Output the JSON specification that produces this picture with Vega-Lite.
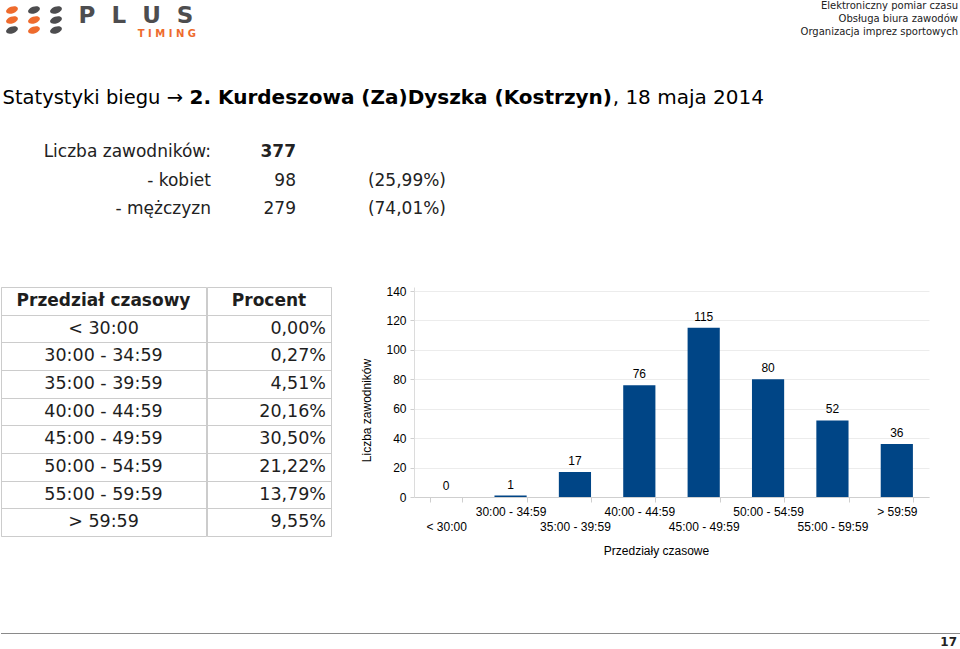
{
  "$schema": "https://vega.github.io/schema/vega-lite/v6.json",
  "padding": 0,
  "background": "#ffffff",
  "spacing": 0,
  "config": {
    "view": {"stroke": null},
    "concat": {"spacing": 0},
    "font": "DejaVu Sans",
    "text": {"font": "DejaVu Sans", "color": "#1e1e1e"}
  },
  "datasets": {
    "przedzialy": [
      {"przedzial": "< 30:00", "liczba": 0, "procent": "0,00%"},
      {"przedzial": "30:00 - 34:59", "liczba": 1, "procent": "0,27%"},
      {"przedzial": "35:00 - 39:59", "liczba": 17, "procent": "4,51%"},
      {"przedzial": "40:00 - 44:59", "liczba": 76, "procent": "20,16%"},
      {"przedzial": "45:00 - 49:59", "liczba": 115, "procent": "30,50%"},
      {"przedzial": "50:00 - 54:59", "liczba": 80, "procent": "21,22%"},
      {"przedzial": "55:00 - 59:59", "liczba": 52, "procent": "13,79%"},
      {"przedzial": "> 59:59", "liczba": 36, "procent": "9,55%"}
    ],
    "zawodnicy": [
      {"kategoria": "Liczba zawodników:", "liczba": 377, "udzial": ""},
      {"kategoria": "- kobiet", "liczba": 98, "udzial": "(25,99%)"},
      {"kategoria": "- mężczyzn", "liczba": 279, "udzial": "(74,01%)"}
    ],
    "naglowek": [
      {"wiersz": 1, "tekst": "Elektroniczny pomiar czasu"},
      {"wiersz": 2, "tekst": "Obsługa biura zawodów"},
      {"wiersz": 3, "tekst": "Organizacja imprez sportowych"}
    ],
    "logo": [
      {"kol": 0, "rz": 0, "barwa": "pomarańczowy"},
      {"kol": 1, "rz": 0, "barwa": "szary"},
      {"kol": 2, "rz": 0, "barwa": "szary"},
      {"kol": 0, "rz": 1, "barwa": "pomarańczowy"},
      {"kol": 1, "rz": 1, "barwa": "pomarańczowy"},
      {"kol": 2, "rz": 1, "barwa": "szary"},
      {"kol": 0, "rz": 2, "barwa": "szary"},
      {"kol": 1, "rz": 2, "barwa": "pomarańczowy"},
      {"kol": 2, "rz": 2, "barwa": "szary"}
    ]
  },
  "vconcat": [
    {
      "hconcat": [
        {
          "width": 66, "height": 40,
          "data": {"name": "logo"},
          "mark": {"type": "point", "filled": true, "opacity": 1, "size": 150, "angle": -20, "shape": "M-1,0A1,0.55,0,1,1,1,0A1,0.55,0,1,1,-1,0"},
          "encoding": {
            "x": {"field": "kol", "type": "ordinal", "axis": null, "scale": {"type": "point", "padding": 0.5}},
            "y": {"field": "rz", "type": "ordinal", "axis": null, "scale": {"type": "point", "padding": 1}},
            "color": {"field": "barwa", "type": "nominal", "legend": null, "scale": {"domain": ["szary", "pomarańczowy"], "range": ["#4d4d4f", "#ee6b2d"]}}
          }
        },
        {
          "width": 138, "height": 40,
          "layer": [
            {
              "data": {"values": [{"napis": "P\u00a0\u00a0L\u00a0\u00a0U\u00a0\u00a0S"}]},
              "mark": {"type": "text", "fontSize": 23, "fontWeight": "bold", "color": "#4d4d4f", "dy": -4},
              "encoding": {"text": {"field": "napis"}}
            },
            {
              "data": {"values": [{"napis": "T I M I N G"}]},
              "mark": {"type": "text", "fontSize": 10, "fontWeight": "bold", "color": "#ee6b2d", "align": "right", "baseline": "bottom", "dx": -9, "dy": -1},
              "encoding": {"text": {"field": "napis"}, "x": {"value": "width"}, "y": {"value": "height"}}
            }
          ]
        },
        {
          "width": 756, "height": 38,
          "data": {"name": "naglowek"},
          "mark": {"type": "text", "align": "right", "fontSize": 10, "dx": -3, "color": "#222222"},
          "encoding": {
            "x": {"value": "width"},
            "y": {"field": "wiersz", "type": "ordinal", "axis": null},
            "text": {"field": "tekst"}
          }
        }
      ]
    },
    {
      "hconcat": [
        {
          "width": 182, "height": 64,
          "data": {"values": [{"tekst": "Statystyki biegu →"}]},
          "mark": {"type": "text", "align": "right", "baseline": "alphabetic", "fontSize": 19.5, "color": "#000000"},
          "encoding": {"x": {"value": "width"}, "y": {"value": "height"}, "text": {"field": "tekst"}}
        },
        {
          "width": 429, "height": 64,
          "data": {"values": [{"tekst": "2. Kurdeszowa (Za)Dyszka (Kostrzyn)"}]},
          "mark": {"type": "text", "align": "right", "baseline": "alphabetic", "fontSize": 20, "fontWeight": "bold", "color": "#000000"},
          "encoding": {"x": {"value": "width"}, "y": {"value": "height"}, "text": {"field": "tekst"}}
        },
        {
          "width": 149, "height": 64,
          "data": {"values": [{"tekst": ", 18 maja 2014"}]},
          "mark": {"type": "text", "align": "right", "baseline": "alphabetic", "fontSize": 20, "color": "#000000"},
          "encoding": {"x": {"value": "width"}, "y": {"value": "height"}, "text": {"field": "tekst"}}
        }
      ]
    },
    {
      "width": 1, "height": 16,
      "data": {"values": []},
      "mark": "text",
      "encoding": {}
    },
    {
      "hconcat": [
        {
          "width": 210, "height": 113,
          "data": {"name": "zawodnicy"},
          "mark": {"type": "text", "align": "right", "fontSize": 17, "color": "#222222"},
          "encoding": {
            "x": {"value": "width"},
            "y": {"field": "kategoria", "type": "nominal", "sort": null, "axis": null, "scale": {"type": "point", "padding": 1, "domain": ["Liczba zawodników:", "- kobiet", "- mężczyzn"]}},
            "text": {"field": "kategoria"}
          }
        },
        {
          "width": 85, "height": 113,
          "data": {"name": "zawodnicy"},
          "encoding": {
            "x": {"value": "width"},
            "y": {"field": "kategoria", "type": "nominal", "sort": null, "axis": null, "scale": {"type": "point", "padding": 1, "domain": ["Liczba zawodników:", "- kobiet", "- mężczyzn"]}},
            "text": {"field": "liczba", "type": "quantitative"}
          },
          "layer": [
            {
              "transform": [{"filter": "datum.kategoria === 'Liczba zawodników:'"}],
              "mark": {"type": "text", "align": "right", "fontSize": 17, "fontWeight": "bold", "color": "#222222"}
            },
            {
              "transform": [{"filter": "datum.kategoria !== 'Liczba zawodników:'"}],
              "mark": {"type": "text", "align": "right", "fontSize": 17, "color": "#222222"}
            }
          ]
        },
        {
          "width": 150, "height": 113,
          "data": {"name": "zawodnicy"},
          "mark": {"type": "text", "align": "right", "fontSize": 17, "color": "#222222"},
          "encoding": {
            "x": {"value": "width"},
            "y": {"field": "kategoria", "type": "nominal", "sort": null, "axis": null, "scale": {"type": "point", "padding": 1, "domain": ["Liczba zawodników:", "- kobiet", "- mężczyzn"]}},
            "text": {"field": "udzial"}
          }
        }
      ]
    },
    {
      "width": 1, "height": 48,
      "data": {"values": []},
      "mark": "text",
      "encoding": {}
    },
    {
      "spacing": 28,
      "hconcat": [
        {
          "spacing": -1,
          "hconcat": [
            {
              "width": 205, "height": 249,
              "view": {"stroke": "#cccccc"},
              "layer": [
                {
                  "data": {"values": [{"przedzial": "Przedział czasowy", "procent": "Procent"}]},
                  "mark": {"type": "text", "fontSize": 17, "fontWeight": "bold", "color": "#1e1e1e"},
                  "encoding": {
                    "y": {"field": "przedzial", "type": "nominal", "sort": null,
                      "scale": {"type": "band", "paddingInner": 0, "paddingOuter": 0, "domain": ["Przedział czasowy", "< 30:00", "30:00 - 34:59", "35:00 - 39:59", "40:00 - 44:59", "45:00 - 49:59", "50:00 - 54:59", "55:00 - 59:59", "> 59:59"]},
                      "axis": {"grid": true, "tickBand": "extent", "labels": false, "ticks": false, "domain": false, "title": null, "gridColor": "#cccccc"}},
                    "text": {"field": "przedzial"}
                  }
                },
                {
                  "data": {"name": "przedzialy"},
                  "mark": {"type": "text", "fontSize": 17.5, "color": "#1e1e1e"},
                  "encoding": {
                    "y": {"field": "przedzial", "type": "nominal", "sort": null,
                      "axis": {"grid": true, "tickBand": "extent", "labels": false, "ticks": false, "domain": false, "title": null, "gridColor": "#cccccc"}},
                    "text": {"field": "przedzial"}
                  }
                }
              ]
            },
            {
              "width": 124, "height": 249,
              "view": {"stroke": "#cccccc"},
              "layer": [
                {
                  "data": {"values": [{"przedzial": "Przedział czasowy", "procent": "Procent"}]},
                  "mark": {"type": "text", "fontSize": 17, "fontWeight": "bold", "color": "#1e1e1e"},
                  "encoding": {
                    "y": {"field": "przedzial", "type": "nominal", "sort": null,
                      "scale": {"type": "band", "paddingInner": 0, "paddingOuter": 0, "domain": ["Przedział czasowy", "< 30:00", "30:00 - 34:59", "35:00 - 39:59", "40:00 - 44:59", "45:00 - 49:59", "50:00 - 54:59", "55:00 - 59:59", "> 59:59"]},
                      "axis": {"grid": true, "tickBand": "extent", "labels": false, "ticks": false, "domain": false, "title": null, "gridColor": "#cccccc"}},
                    "text": {"field": "procent"}
                  }
                },
                {
                  "data": {"name": "przedzialy"},
                  "mark": {"type": "text", "fontSize": 17.5, "align": "right", "dx": -5, "color": "#1e1e1e"},
                  "encoding": {
                    "x": {"value": "width"},
                    "y": {"field": "przedzial", "type": "nominal", "sort": null,
                      "axis": {"grid": true, "tickBand": "extent", "labels": false, "ticks": false, "domain": false, "title": null, "gridColor": "#cccccc"}},
                    "text": {"field": "procent"}
                  }
                }
              ]
            }
          ]
        },
        {
          "width": 515, "height": 210,
          "data": {"name": "przedzialy"},
          "encoding": {
            "x": {"field": "przedzial", "type": "nominal", "sort": null,
              "scale": {"domain": ["< 30:00", "30:00 - 34:59", "35:00 - 39:59", "40:00 - 44:59", "45:00 - 49:59", "50:00 - 54:59", "55:00 - 59:59", "> 59:59"], "paddingInner": 0.5, "paddingOuter": 0.25},
              "axis": {"title": "Przedziały czasowe", "labelAngle": 0, "tickBand": "extent", "tickSize": 5, "tickColor": "#cfcfcf", "domainColor": "#cfcfcf", "grid": false,
                "labelFont": "Liberation Sans", "labelFontSize": 12, "labelColor": "#000000", "labelPadding": 4, "labelBaseline": "top", "labelLineHeight": 15, "labelOverlap": false,
                "labelExpr": "indexof(['< 30:00', '35:00 - 39:59', '45:00 - 49:59', '55:00 - 59:59'], datum.value) >= 0 ? ['', datum.label] : datum.label",
                "titleFont": "Liberation Sans", "titleFontSize": 12, "titleFontWeight": "normal", "titleColor": "#000000", "titleX": 242, "titlePadding": 13}},
            "y": {"field": "liczba", "type": "quantitative",
              "scale": {"domain": [0, 142.72], "nice": false},
              "axis": {"title": "Liczba zawodników", "values": [0, 20, 40, 60, 80, 100, 120, 140], "grid": true, "gridColor": "#ececec", "tickSize": 4, "tickColor": "#cfcfcf", "domainColor": "#dcdcdc",
                "labelFont": "Liberation Sans", "labelFontSize": 12, "labelColor": "#000000", "labelPadding": 4,
                "titleFont": "Liberation Sans", "titleFontSize": 12, "titleFontWeight": "normal", "titleColor": "#000000", "titleY": 123, "titlePadding": 12}}
          },
          "layer": [
            {"mark": {"type": "bar", "color": "#004586"}},
            {
              "mark": {"type": "text", "baseline": "bottom", "dy": -4, "font": "Liberation Sans", "fontSize": 12, "color": "#000000"},
              "encoding": {"text": {"field": "liczba", "type": "quantitative"}}
            }
          ]
        }
      ]
    },
    {
      "width": 1, "height": 77,
      "data": {"values": []},
      "mark": "text",
      "encoding": {}
    },
    {
      "width": 960, "height": 1,
      "view": {"fill": "#8a8a8a", "stroke": null},
      "data": {"values": []},
      "mark": "text",
      "encoding": {}
    },
    {
      "width": 960, "height": 15,
      "data": {"values": [{"strona": "17"}]},
      "mark": {"type": "text", "align": "right", "fontWeight": "bold", "fontSize": 12, "dx": -4, "color": "#222222"},
      "encoding": {"x": {"value": "width"}, "text": {"field": "strona"}}
    }
  ]
}
